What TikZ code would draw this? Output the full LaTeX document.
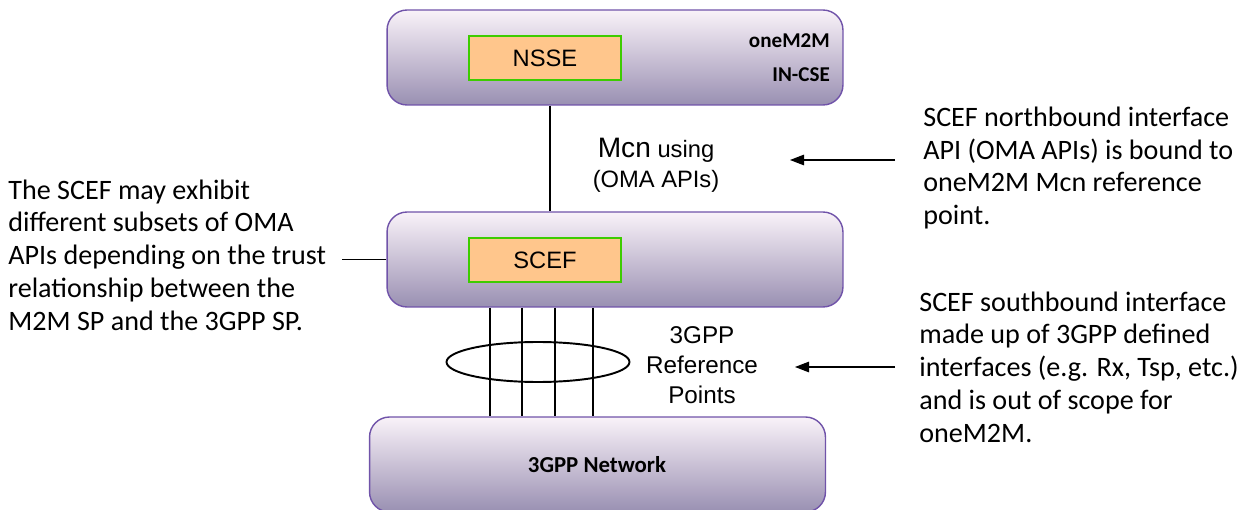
\documentclass[tikz,border=0pt]{standalone}
\usepackage{fontspec}
\setmainfont{Carlito}
\newfontfamily\arialfont{Liberation Sans}
\usetikzlibrary{arrows.meta,positioning,shapes.geometric}

\begin{document}
\begin{tikzpicture}[x=0.02cm,y=-0.02cm,
layer/.style={draw=violet!50!blue!50!gray!90, line width=0.8pt, rounded corners=0.4cm, minimum width=9.12cm, minimum height=1.9cm, top color=white!95!violet, bottom color=violet!45!blue!25!gray!70, shading angle=0},
func/.style={draw=green!60!lime!80!black, line width=0.8pt, fill=orange!45!white, minimum width=3.04cm, minimum height=0.88cm, font=\arialfont\fontsize{13.5}{15}\selectfont},
note/.style={align=left, anchor=west, inner sep=0pt, font=\fontsize{16}{18.6}\selectfont},
arr/.style={-{Triangle[length=8pt,width=6pt]}, line width=0.7pt}]

\useasboundingbox (0,0) rectangle (1252,510);
\clip (0,0) rectangle (1252,510);

\node[layer] (incse) at (615,57.5) {};
\node[func] (nsse) at (545,58) {NSSE};
\node[align=right, anchor=east, font=\bfseries\fontsize{12}{19.5}\selectfont] (incselbl) at (836,58) {oneM2M\\IN-CSE};

\node[layer] (scefbox) at (615,259.5) {};
\node[func] (scef) at (545,260) {SCEF};

\node[layer] (net) at (597.5,464.5) {};
\node[font=\bfseries\fontsize{13}{15}\selectfont] (netlbl) at (597,465) {3GPP Network};

\draw[line width=0.7pt] (incse.south -| 550,0) -- (scefbox.north -| 550,0);
\node[align=center, font=\arialfont\fontsize{13.5}{17}\selectfont] (mcn) at (656,165) {{\fontsize{16}{17}\selectfont Mcn} using\\(OMA APIs)};

\foreach \x in {490,522,555,593}
  \draw[line width=0.7pt] (scefbox.south -| \x,0) -- (net.north -| \x,0);
\node[draw, ellipse, line width=1.1pt, minimum width=3.66cm, minimum height=0.8cm] (bundle) at (538,362) {};
\node[align=center, font=\arialfont\fontsize{13.8}{17}\selectfont] (refpts) at (702,365) {3GPP\\Reference\\Points};

\node[note] (leftnote) at (8,255) {The SCEF may exhibit\\different subsets of OMA\\APIs depending on the trust\\relationship between the\\M2M SP and the 3GPP SP.};
\draw[line width=0.7pt] (scefbox.west) -- ++(-44,0);

\node[note] (northnote) at (923,168) {SCEF northbound interface\\API (OMA APIs) is bound to\\oneM2M Mcn reference\\point.};
\node[note] (southnote) at (919,367) {SCEF southbound interface\\made up of 3GPP defined\\interfaces (e.g. Rx, Tsp, etc.)\\and is out of scope for\\oneM2M.};
\coordinate (na) at (895,160);
\coordinate (sa) at (895,367);
\draw[arr] (na) -- ++(-105,0);
\draw[arr] (sa) -- ++(-100,0);
%
\end{tikzpicture}
\end{document}
